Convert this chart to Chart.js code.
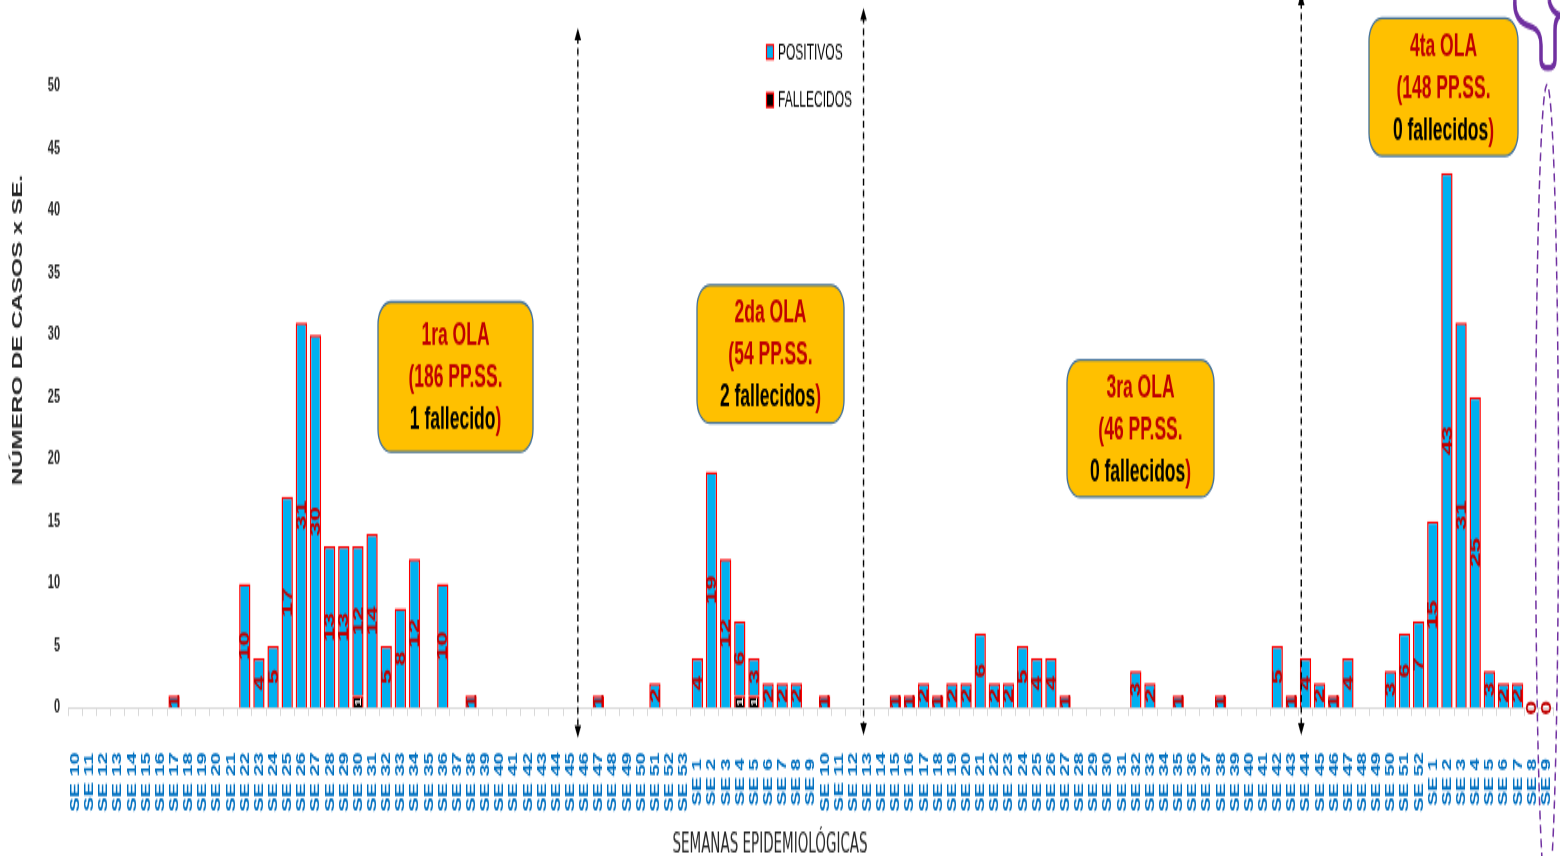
<!DOCTYPE html>
<html lang="es">
<head>
<meta charset="utf-8">
<title>Casos por semana epidemiológica</title>
<script src="https://cdn.jsdelivr.net/npm/chart.js@4.4.1/dist/chart.umd.min.js"></script>
<style>
  html, body { margin: 0; padding: 0; background: #fff; }
  /* the canvas is drawn 489px tall and stretched to 856px, like the original picture */
  #chart { display: block; width: 1560px !important; height: 856px !important; }
</style>
</head>
<body>
<canvas id="chart" width="1560" height="489" style="width:1560px;height:856px"></canvas>
<script>
// ---- datos ----
const semanas2020 = ['SE 10','SE 11','SE 12','SE 13','SE 14','SE 15','SE 16','SE 17','SE 18','SE 19',
  'SE 20','SE 21','SE 22','SE 23','SE 24','SE 25','SE 26','SE 27','SE 28','SE 29',
  'SE 30','SE 31','SE 32','SE 33','SE 34','SE 35','SE 36','SE 37','SE 38','SE 39',
  'SE 40','SE 41','SE 42','SE 43','SE 44','SE 45','SE 46','SE 47','SE 48','SE 49',
  'SE 50','SE 51','SE 52','SE 53'];
const positivos2020 = [null, null, null, null, null, null, null, 1, null, null,
  null, null, 10, 4, 5, 17, 31, 30, 13, 13,
  12, 14, 5, 8, 12, null, 10, null, 1, null,
  null, null, null, null, null, null, null, 1, null, null,
  null, 2, null, null];
const fallecidos2020 = [null, null, null, null, null, null, null, null, null, null,
  null, null, null, null, null, null, null, null, null, null,
  1, null, null, null, null, null, null, null, null, null,
  null, null, null, null, null, null, null, null, null, null,
  null, null, null, null];

const semanas2021 = ['SE 1','SE 2','SE 3','SE 4','SE 5','SE 6','SE 7','SE 8','SE 9','SE 10',
  'SE 11','SE 12','SE 13','SE 14','SE 15','SE 16','SE 17','SE 18','SE 19','SE 20',
  'SE 21','SE 22','SE 23','SE 24','SE 25','SE 26','SE 27','SE 28','SE 29','SE 30',
  'SE 31','SE 32','SE 33','SE 34','SE 35','SE 36','SE 37','SE 38','SE 39','SE 40',
  'SE 41','SE 42','SE 43','SE 44','SE 45','SE 46','SE 47','SE 48','SE 49','SE 50',
  'SE 51','SE 52'];
const positivos2021 = [4, 19, 12, 6, 3, 2, 2, 2, null, 1,
  null, null, null, null, 1, 1, 2, 1, 2, 2,
  6, 2, 2, 5, 4, 4, 1, null, null, null,
  null, 3, 2, null, 1, null, null, 1, null, null,
  null, 5, 1, 4, 2, 1, 4, null, null, 3,
  6, 7];
const fallecidos2021 = [null, null, null, 1, 1, null, null, null, null, null,
  null, null, null, null, null, null, null, null, null, null,
  null, null, null, null, null, null, null, null, null, null,
  null, null, null, null, null, null, null, null, null, null,
  null, null, null, null, null, null, null, null, null, null,
  null, null];

const semanas2022 = ['SE 1','SE 2','SE 3','SE 4','SE 5','SE 6','SE 7','SE 8','SE 9'];
const positivos2022 = [15, 43, 31, 25, 3, 2, 2, 0, 0];
const fallecidos2022 = [null, null, null, null, null, null, null, null, null];

const olaTitulos = ['1ra OLA', '2da OLA', '3ra OLA', '4ta OLA'];
const olaCasos = ['(186 PP.SS.', '(54 PP.SS.', '(46 PP.SS.', '(148 PP.SS.'];
const olaFallecidos = ['1 fallecido', '2 fallecidos', '0 fallecidos', '0 fallecidos'];
// limites entre olas, en posicion de categoria
const olaLimites = [35.55, 55.75, 86.7];

const semanas = semanas2020.concat(semanas2021, semanas2022);
const positivos = positivos2020.concat(positivos2021, positivos2022);
const fallecidos = fallecidos2020.concat(fallecidos2021, fallecidos2022);

// ---- escala vertical: coordenadas de la imagen original -> lienzo ----
const SY = 489 / 856;
const ry = v => v * SY;
const FONT = "'Liberation Sans', Arial, sans-serif";
const NARROW = "'Liberation Sans Narrow', 'DejaVu Sans Condensed', Arial, sans-serif";

function rotText(ctx, txt, x, y) {
  ctx.save();
  ctx.translate(x, y);
  ctx.rotate(-Math.PI / 2);
  ctx.fillText(txt, 0, 0);
  ctx.restore();
}

// numeros dentro de las barras
const etiquetas = {
  id: 'etiquetas',
  afterDatasetsDraw(chart) {
    const ctx = chart.ctx;
    ctx.save();
    ctx.textAlign = 'center';
    ctx.textBaseline = 'middle';

    ctx.font = 'bold 15px ' + FONT;
    ctx.fillStyle = '#C00000';
    chart.getDatasetMeta(1).data.forEach((bar, i) => {
      if (positivos[i] === null) return;
      rotText(ctx, String(positivos[i]), bar.x + 0.5, (bar.y + bar.base) / 2);
    });

    ctx.font = 'bold 9px ' + FONT;
    ctx.fillStyle = '#fff';
    chart.getDatasetMeta(0).data.forEach((bar, i) => {
      if (fallecidos[i] === null) return;
      rotText(ctx, String(fallecidos[i]), bar.x + 0.5, (bar.y + bar.base) / 2);
    });
    ctx.restore();
  }
};

function flecha(ctx, x, y1, y2) {
  ctx.save();
  ctx.strokeStyle = '#000';
  ctx.fillStyle = '#000';
  ctx.lineWidth = 1.4;
  ctx.setLineDash([4, 2.6]);
  ctx.beginPath();
  ctx.moveTo(x, y1 + 5);
  ctx.lineTo(x, y2 - 5);
  ctx.stroke();
  ctx.setLineDash([]);
  ctx.beginPath();
  ctx.moveTo(x, y1); ctx.lineTo(x - 3.3, y1 + 7); ctx.lineTo(x + 3.3, y1 + 7);
  ctx.closePath(); ctx.fill();
  ctx.beginPath();
  ctx.moveTo(x, y2); ctx.lineTo(x - 3.3, y2 - 7); ctx.lineTo(x + 3.3, y2 - 7);
  ctx.closePath(); ctx.fill();
  ctx.restore();
}

function caja(ctx, i, x, y, w, h) {
  const top = ry(y), hh = ry(h);
  ctx.save();
  ctx.beginPath();
  ctx.roundRect(x, top, w, hh, 13);
  ctx.fillStyle = '#FFC000';
  ctx.fill();
  ctx.lineWidth = 1.3;
  ctx.strokeStyle = '#41719C';
  ctx.stroke();

  const cx = x + w / 2, mid = top + hh / 2;
  ctx.font = 'bold 17.5px ' + FONT;
  ctx.textBaseline = 'middle';
  ctx.textAlign = 'center';
  ctx.fillStyle = '#C00000';
  ctx.fillText(olaTitulos[i], cx, mid - 23);
  ctx.fillText(olaCasos[i], cx, mid + 1);
  const a = olaFallecidos[i], wa = ctx.measureText(a).width, wb = ctx.measureText(')').width;
  ctx.textAlign = 'left';
  ctx.fillStyle = '#000';
  ctx.fillText(a, cx - (wa + wb) / 2, mid + 25);
  ctx.fillStyle = '#C00000';
  ctx.fillText(')', cx - (wa + wb) / 2 + wa, mid + 25);
  ctx.restore();
}

const anotaciones = {
  id: 'anotaciones',
  afterDraw(chart) {
    const ctx = chart.ctx;
    const xs = chart.scales.x;

    // etiquetas de semanas
    ctx.save();
    ctx.font = 'bold 12.5px ' + FONT;
    ctx.fillStyle = '#0070C0';
    ctx.textAlign = 'center';
    ctx.textBaseline = 'middle';
    semanas.forEach((s, i) => rotText(ctx, s, xs.getPixelForValue(i) + 0.5, ry(782)));
    ctx.restore();

    // titulos de ejes
    ctx.save();
    ctx.fillStyle = '#262626';
    ctx.textAlign = 'center';
    ctx.textBaseline = 'middle';
    ctx.font = 'bold 14px ' + FONT;
    rotText(ctx, 'NÚMERO DE CASOS x SE.', 18, ry(330));
    ctx.font = '15px ' + NARROW;
    ctx.fillText('SEMANAS EPIDEMIOLÓGICAS', 770, ry(845));
    ctx.restore();

    // flechas entre olas
    flecha(ctx, xs.getPixelForValue(olaLimites[0]), ry(28), ry(738));
    flecha(ctx, xs.getPixelForValue(olaLimites[1]), ry(8), ry(735));
    flecha(ctx, xs.getPixelForValue(olaLimites[2]), -4, ry(735));

    // cuadros de cada ola
    caja(ctx, 0, 378, 302, 155, 150);
    caja(ctx, 1, 697, 285, 147, 138);
    caja(ctx, 2, 1067, 360, 147, 137);
    caja(ctx, 3, 1369, 18, 149, 138);

    // leyenda
    ctx.save();
    const ds = chart.data.datasets;
    [[ds[1], 52], [ds[0], 100]].forEach(([d, y]) => {
      ctx.fillStyle = d.backgroundColor;
      ctx.strokeStyle = d.borderColor;
      ctx.lineWidth = 1.2;
      ctx.fillRect(766.5, ry(y) - 4, 7, 8);
      ctx.strokeRect(766.5, ry(y) - 4, 7, 8);
      ctx.fillStyle = '#000';
      ctx.font = '12px ' + FONT;
      ctx.textBaseline = 'middle';
      ctx.fillText(d.label, 778, ry(y) + 0.5);
    });
    ctx.restore();

    // marca morada a la derecha
    ctx.save();
    ctx.strokeStyle = '#7030A0';
    ctx.lineWidth = 1.5;
    ctx.setLineDash([5, 3]);
    ctx.beginPath();
    ctx.ellipse(1547, ry(492), 11.5, ry(407), 0, 0, Math.PI * 2);
    ctx.stroke();
    ctx.setLineDash([]);
    ctx.lineWidth = 3.5;
    ctx.lineJoin = 'round';
    ctx.beginPath();
    ctx.moveTo(1515, 0);
    ctx.quadraticCurveTo(1513, ry(22), 1532, ry(27));
    ctx.quadraticCurveTo(1541, ry(31), 1541, ry(45));
    ctx.lineTo(1541, ry(60));
    ctx.quadraticCurveTo(1541, ry(68), 1548, ry(68));
    ctx.quadraticCurveTo(1555, ry(68), 1555, ry(60));
    ctx.lineTo(1555, ry(30));
    ctx.quadraticCurveTo(1555, ry(18), 1561, ry(14));
    ctx.stroke();
    ctx.beginPath();
    ctx.moveTo(1549, 0);
    ctx.quadraticCurveTo(1551, ry(12), 1561, ry(16));
    ctx.stroke();
    ctx.restore();
  }
};

new Chart(document.getElementById('chart'), {
  type: 'bar',
  data: {
    labels: semanas,
    datasets: [
      {
        label: 'FALLECIDOS',
        data: fallecidos,
        backgroundColor: '#000000',
        borderColor: '#FF0000',
        borderWidth: 1.5
      },
      {
        label: 'POSITIVOS',
        data: positivos,
        backgroundColor: '#00B0F0',
        borderColor: '#FF0000',
        borderWidth: 1.5
      }
    ]
  },
  options: {
    responsive: false,
    animation: false,
    devicePixelRatio: 1,
    layout: { padding: { top: ry(86), right: 7, left: 0, bottom: 0 } },
    datasets: { bar: { categoryPercentage: 1, barPercentage: 0.8 } },
    plugins: {
      legend: { display: false },
      tooltip: { enabled: false }
    },
    scales: {
      x: {
        stacked: true,
        ticks: { display: false },
        grid: { display: true, drawOnChartArea: false, drawTicks: true, tickLength: 4.5, color: '#D9D9D9', offset: true },
        border: { display: true, color: '#D9D9D9' },
        afterFit: (s) => { s.height = 489 - ry(708); }
      },
      y: {
        stacked: true,
        min: 0,
        max: 50,
        ticks: { stepSize: 5, padding: 8, color: '#262626', font: { family: FONT, size: 11, weight: 'bold' } },
        grid: { display: false, drawTicks: false },
        border: { display: false },
        afterFit: (s) => { s.width = 68; }
      }
    }
  },
  plugins: [etiquetas, anotaciones]
});
</script>
</body>
</html>
